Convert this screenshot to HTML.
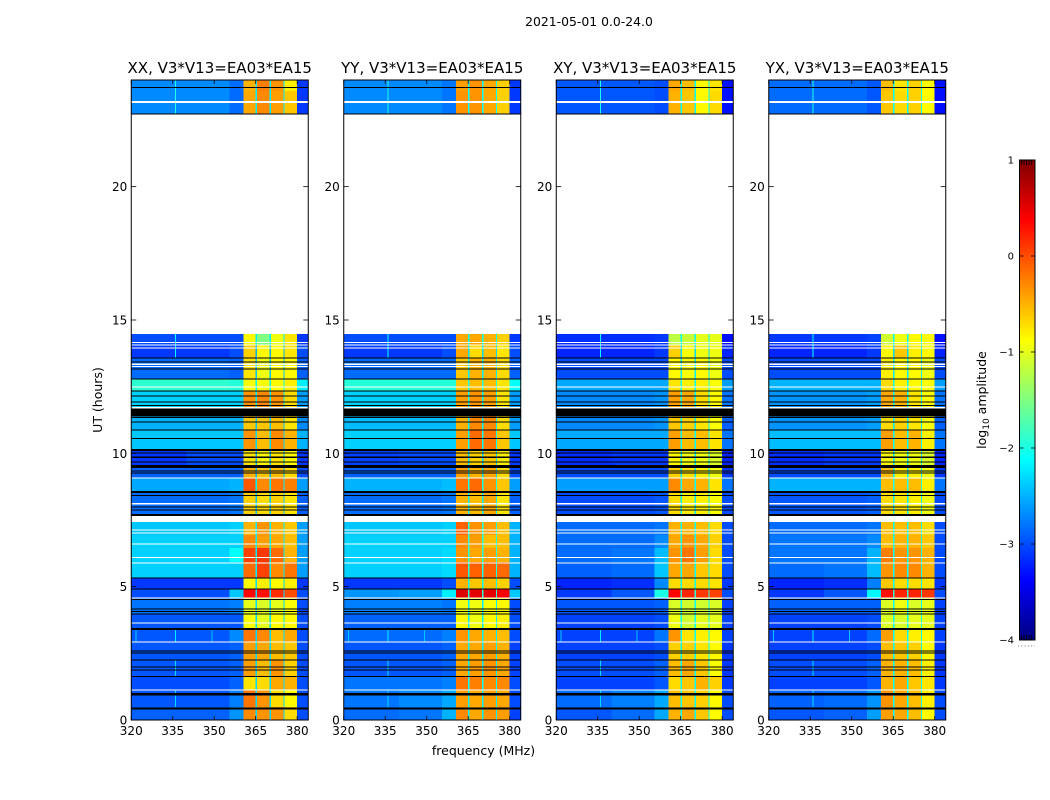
<!DOCTYPE html>
<html lang="en">
<head>
<meta charset="utf-8">
<title>2021-05-01 dynamic spectra</title>
<style>
html,body{margin:0;padding:0;background:#fff;width:1050px;height:800px;overflow:hidden}
svg{display:block}
text{font-family:"DejaVu Sans","Liberation Sans",sans-serif;fill:#000}
</style>
</head>
<body>
<svg id="figure" xmlns="http://www.w3.org/2000/svg" width="1050" height="800" viewBox="0 0 1050 800">
  <rect x="0" y="0" width="1050" height="800" fill="#fff"/>
  <text x="589" y="26" font-size="12.4" text-anchor="middle">2021-05-01 0.0-24.0</text>
  <text x="483.5" y="755" font-size="12.5" text-anchor="middle">frequency (MHz)</text>
  <text x="0" y="0" font-size="12.5" text-anchor="middle" transform="translate(102 400) rotate(-90)">UT (hours)</text>
  <text x="0" y="0" font-size="12.5" text-anchor="middle" transform="translate(986 400) rotate(-90)">log<tspan font-size="9" dy="3">10</tspan><tspan dy="-3"> amplitude</tspan></text>
  <g id="panels"></g>
  <g id="colorbar"></g>
</svg>
<script>
// ---- Chart data ----
const panelTitles = ['XX, V3*V13=EA03*EA15', 'YY, V3*V13=EA03*EA15', 'XY, V3*V13=EA03*EA15', 'YX, V3*V13=EA03*EA15'];
const freqTicks = [320, 335, 350, 365, 380];
const hourTicks = [0, 5, 10, 15, 20];
const colorTicks = [1, 0, -1, -2, -3, -4];

// Frequency bins [from, to] in MHz, and which level column each bin reads.
const freqBins = [[320,340],[340,355.5],[355.5,360.5],[360.5,365],[365,365.5],[365.5,370],[370,370.5],[370.5,375],[375,375.5],[375.5,380],[380,384]];
const binColumn = [0,1,2,3,7,4,7,5,7,6,8];

// Time rows [from, to] in UT hours.
const timeRows = [[23.59,24],[22.73,23.59],[14.06,14.48],[13.58,14.06],[12.79,13.58],[12.34,12.79],[11.66,12.34],[10.88,11.4],[10.13,10.88],[9.56,10.13],[9.08,9.45],[8.55,9.08],[7.73,8.55],[6.94,7.46],[6.45,6.94],[5.93,6.45],[5.33,5.93],[4.91,5.33],[4.58,4.91],[3.98,4.58],[3.41,3.98],[2.93,3.41],[2.25,2.93],[1.65,2.25],[1.13,1.65],[0.49,1.13],[0,0.49]];

// log10 amplitude per time row: 320-340, 340-355.5, 355.5-360.5, ch1, ch2, ch3, ch4, channel gap, 380-384
const xxLevels = [
[-2.7,-2.7,-2.85,-0.5,-0.25,-0.35,-0.8,-2.2,-3.1],
[-2.7,-2.7,-2.85,-0.45,-0.3,-0.4,-0.6,-2.2,-3.1],
[-3.0,-3.0,-3.0,-0.85,-1.5,-0.95,-0.75,-2.2,-3.1],
[-3.1,-3.1,-3.0,-0.65,-0.85,-0.85,-0.75,-2.5,-3.0],
[-2.85,-2.85,-2.9,-0.75,-0.95,-0.85,-0.85,-2.4,-2.9],
[-1.9,-1.9,-1.95,-0.9,-0.9,-0.85,-0.8,-2.1,-2.2],
[-2.35,-2.35,-2.35,-0.35,-0.3,-0.35,-0.7,-2.2,-2.6],
[-2.5,-2.5,-2.5,-0.6,-0.6,-0.55,-0.75,-2.4,-2.7],
[-2.4,-2.4,-2.4,-0.35,-0.55,-0.3,-0.5,-2.3,-2.5],
[-3.1,-3.0,-3.0,-0.75,-0.85,-0.75,-0.85,-2.5,-3.1],
[-2.9,-2.9,-2.9,-0.5,-0.6,-0.55,-0.7,-2.5,-3.0],
[-2.55,-2.55,-2.5,-0.05,-0.3,-0.2,-0.25,-2.2,-2.6],
[-2.85,-2.85,-2.8,-0.65,-0.7,-0.65,-0.75,-2.4,-2.9],
[-2.4,-2.4,-2.35,-0.5,-0.35,-0.5,-0.6,-2.2,-2.6],
[-2.35,-2.35,-2.35,-0.3,-0.4,-0.45,-0.55,-2.2,-2.6],
[-2.35,-2.35,-2.1,0.05,0.1,-0.15,-0.5,-2.2,-2.6],
[-2.35,-2.35,-2.35,-0.15,0.05,-0.3,-0.2,-2.2,-2.6],
[-3.1,-3.1,-3.1,-0.85,-0.8,-0.85,-0.8,-2.3,-3.1],
[-3.0,-3.0,-2.4,0.35,0.3,0.15,0.0,-2.3,-3.0],
[-2.8,-2.8,-2.75,-1.0,-1.05,-1.0,-0.9,-2.3,-3.0],
[-2.95,-2.95,-2.95,-0.9,-1.0,-0.85,-0.85,-2.3,-3.0],
[-2.95,-2.95,-2.7,-0.2,-0.3,-0.55,-0.45,-2.3,-3.0],
[-2.95,-2.95,-2.9,-0.4,-0.45,-0.55,-0.6,-2.3,-3.0],
[-2.95,-2.95,-2.9,-0.4,-0.55,-0.35,-0.65,-2.3,-3.0],
[-3.0,-3.0,-2.9,-0.75,-0.7,-0.45,-0.5,-2.3,-3.0],
[-2.95,-2.95,-2.75,-0.2,-0.35,-0.7,-0.85,-2.3,-3.0],
[-2.9,-2.9,-2.65,-0.3,-0.35,-0.35,-0.7,-2.3,-3.0]
];
const yyLevels = [
[-2.7,-2.7,-2.8,-0.4,-0.35,-0.45,-0.65,-2.1,-3.1],
[-2.7,-2.7,-2.8,-0.35,-0.35,-0.45,-0.65,-2.1,-3.1],
[-3.0,-3.0,-3.0,-0.45,-0.45,-0.5,-0.65,-2.1,-3.1],
[-3.1,-3.1,-3.0,-0.45,-0.7,-0.55,-0.75,-2.3,-3.0],
[-2.85,-2.85,-2.85,-0.6,-0.5,-0.5,-0.7,-2.2,-2.9],
[-1.95,-1.95,-1.95,-0.6,-0.55,-0.55,-0.75,-2.0,-2.1],
[-2.35,-2.35,-2.35,-0.4,-0.35,-0.4,-0.75,-2.1,-2.6],
[-2.45,-2.45,-2.45,-0.5,-0.3,-0.3,-0.7,-2.2,-2.6],
[-2.35,-2.35,-2.35,-0.4,-0.15,-0.2,-0.6,-2.1,-2.4],
[-3.05,-3.0,-3.0,-0.55,-0.65,-0.6,-0.8,-2.3,-3.1],
[-2.9,-2.9,-2.9,-0.4,-0.5,-0.45,-0.7,-2.3,-3.0],
[-2.5,-2.5,-2.45,-0.2,-0.15,-0.35,-0.6,-2.0,-2.6],
[-2.85,-2.85,-2.8,-0.5,-0.55,-0.45,-0.75,-2.2,-2.9],
[-2.4,-2.4,-2.35,-0.1,-0.35,-0.4,-0.55,-2.0,-2.5],
[-2.35,-2.35,-2.35,-0.3,-0.4,-0.55,-0.55,-2.0,-2.5],
[-2.35,-2.35,-2.3,-0.35,-0.45,-0.4,-0.5,-2.0,-2.5],
[-2.35,-2.35,-2.3,-0.05,-0.1,-0.1,-0.15,-2.0,-2.5],
[-3.1,-3.1,-3.0,-0.5,-0.6,-0.55,-0.65,-2.1,-3.0],
[-2.65,-2.6,-2.2,0.55,0.5,0.5,0.4,-1.9,-2.4],
[-2.75,-2.75,-2.8,-0.95,-0.95,-0.9,-0.85,-2.2,-3.0],
[-2.9,-2.9,-2.9,-0.85,-0.95,-0.85,-0.8,-2.2,-3.0],
[-2.85,-2.85,-2.75,-0.35,-0.45,-0.5,-0.55,-2.2,-3.0],
[-2.95,-2.95,-2.9,-0.45,-0.45,-0.4,-0.5,-2.2,-3.05],
[-2.95,-2.95,-2.9,-0.45,-0.4,-0.35,-0.45,-2.2,-3.05],
[-2.8,-2.8,-2.75,-0.2,-0.25,-0.3,-0.3,-2.1,-3.0],
[-2.8,-2.7,-2.55,-0.4,-0.45,-0.4,-0.45,-2.2,-3.0],
[-2.85,-2.8,-2.5,-0.3,-0.45,-0.35,-0.4,-2.2,-3.05]
];
const xyLevels = [
[-2.95,-2.95,-3.0,-0.45,-0.55,-0.85,-0.75,-2.1,-3.3],
[-2.95,-2.95,-3.0,-0.5,-0.6,-0.85,-0.7,-2.1,-3.3],
[-3.15,-3.15,-3.1,-1.2,-1.15,-1.0,-1.0,-2.1,-3.3],
[-3.2,-3.2,-3.1,-0.65,-0.9,-0.95,-0.95,-2.3,-3.2],
[-3.0,-3.0,-3.0,-0.85,-0.9,-0.85,-0.95,-2.2,-3.0],
[-2.55,-2.55,-2.55,-0.75,-0.8,-0.8,-0.9,-2.1,-2.6],
[-2.7,-2.7,-2.65,-0.4,-0.45,-0.7,-0.85,-2.1,-2.8],
[-2.7,-2.7,-2.65,-0.6,-0.65,-0.75,-0.9,-2.2,-2.9],
[-2.55,-2.55,-2.55,-0.4,-0.55,-0.55,-0.75,-2.1,-2.8],
[-3.15,-3.1,-3.1,-0.85,-0.95,-0.95,-1.05,-2.2,-3.2],
[-3.0,-3.0,-3.0,-0.65,-0.75,-0.8,-0.95,-2.2,-3.1],
[-2.6,-2.6,-2.6,-0.3,-0.45,-0.5,-0.75,-2.1,-2.8],
[-3.0,-3.0,-2.95,-0.7,-0.8,-0.8,-0.9,-2.2,-3.0],
[-2.85,-2.85,-2.8,-0.5,-0.5,-0.55,-0.7,-2.1,-3.0],
[-2.85,-2.85,-2.7,-0.45,-0.35,-0.45,-0.65,-2.1,-3.0],
[-2.85,-2.8,-2.45,-0.35,-0.2,-0.4,-0.7,-2.1,-3.0],
[-2.9,-2.85,-2.4,-0.45,-0.45,-0.6,-0.7,-2.1,-3.0],
[-3.2,-3.15,-2.7,-0.7,-0.7,-0.7,-0.75,-2.1,-3.1],
[-3.1,-2.95,-2.0,0.35,0.2,0.1,0.05,-1.9,-3.0],
[-2.95,-2.95,-2.9,-1.05,-1.1,-1.1,-1.05,-2.1,-3.05],
[-3.05,-3.05,-3.0,-0.95,-1.1,-1.0,-1.0,-2.1,-3.05],
[-3.05,-3.05,-2.8,-0.35,-0.75,-0.8,-0.85,-2.1,-3.05],
[-3.05,-3.05,-3.0,-0.65,-0.65,-0.75,-0.85,-2.1,-3.1],
[-3.0,-3.0,-2.9,-0.55,-0.45,-0.6,-0.9,-2.1,-3.1],
[-3.05,-3.05,-2.95,-0.7,-0.6,-0.5,-0.65,-2.1,-3.1],
[-2.85,-2.75,-2.55,-0.55,-0.6,-0.65,-0.85,-2.1,-3.0],
[-2.95,-2.85,-2.55,-0.5,-0.45,-0.6,-0.85,-2.1,-3.0]
];
const yxLevels = [
[-2.85,-2.85,-2.95,-0.55,-0.75,-0.65,-0.85,-2.1,-3.3],
[-2.85,-2.85,-2.95,-0.6,-0.7,-0.65,-0.85,-2.1,-3.3],
[-3.1,-3.1,-3.05,-1.1,-0.95,-0.85,-0.85,-2.1,-3.3],
[-3.2,-3.2,-3.1,-0.85,-0.6,-0.8,-0.85,-2.3,-3.2],
[-3.0,-3.0,-3.0,-0.8,-0.85,-0.85,-0.95,-2.2,-3.0],
[-2.5,-2.5,-2.5,-0.7,-0.8,-0.85,-0.9,-2.1,-2.6],
[-2.65,-2.65,-2.6,-0.45,-0.5,-0.75,-0.85,-2.1,-2.8],
[-2.65,-2.65,-2.6,-0.7,-0.65,-0.75,-0.9,-2.2,-2.9],
[-2.45,-2.45,-2.45,-0.4,-0.55,-0.5,-0.8,-2.1,-2.8],
[-3.15,-3.1,-3.1,-0.85,-0.95,-0.95,-1.05,-2.2,-3.2],
[-3.0,-3.0,-3.0,-0.55,-0.8,-0.8,-0.95,-2.2,-3.1],
[-2.5,-2.5,-2.5,-0.55,-0.55,-0.55,-0.8,-2.0,-2.8],
[-2.95,-2.95,-2.9,-0.7,-0.75,-0.8,-0.95,-2.2,-3.0],
[-2.85,-2.85,-2.8,-0.55,-0.55,-0.55,-0.7,-2.1,-3.0],
[-2.8,-2.8,-2.7,-0.55,-0.5,-0.5,-0.6,-2.1,-3.0],
[-2.8,-2.8,-2.5,-0.25,-0.35,-0.35,-0.5,-2.1,-3.0],
[-2.85,-2.8,-2.45,-0.35,-0.3,-0.3,-0.5,-2.1,-3.0],
[-3.2,-3.15,-2.75,-0.6,-0.7,-0.7,-0.75,-2.1,-3.1],
[-3.1,-2.95,-2.15,0.3,0.2,0.2,0.1,-1.9,-3.0],
[-2.9,-2.9,-2.9,-1.05,-0.95,-1.05,-1.0,-2.1,-3.05],
[-3.05,-3.05,-3.0,-1.05,-1.05,-1.0,-1.0,-2.1,-3.05],
[-3.05,-3.05,-2.85,-0.4,-0.7,-0.8,-0.85,-2.1,-3.05],
[-3.05,-3.05,-3.0,-0.55,-0.6,-0.65,-0.85,-2.1,-3.1],
[-3.0,-3.0,-2.9,-0.5,-0.5,-0.55,-0.8,-2.1,-3.1],
[-3.05,-3.05,-2.95,-0.5,-0.45,-0.6,-0.75,-2.1,-3.1],
[-2.9,-2.85,-2.65,-0.35,-0.45,-0.55,-0.8,-2.1,-3.0],
[-2.95,-2.9,-2.6,-0.4,-0.45,-0.55,-0.85,-2.1,-3.0]
];
const panelLevels = [xxLevels, yyLevels, xyLevels, yxLevels];

// Narrow interference features: frequency MHz, from hour, to hour, log10 amplitude.
const rfiLines = [[335.8,22.73,24,-2.0],[335.8,13.58,14.48,-2.1],[335.8,2.93,3.41,-2.2],[335.8,1.65,2.25,-2.3],[335.8,0.49,1.13,-2.3],[321.5,2.93,3.41,-2.4],[349,2.93,3.41,-2.4]];
// Flagged (black) and empty (white) time ranges in UT hours.
const blackRanges = [[22.71,22.75],[23.7,23.74],[13.56,13.6],[13.41,13.45],[13.14,13.18],[12.77,12.81],[12.32,12.36],[12.13,12.17],[11.9,11.94],[11.77,11.81],[11.38,11.68],[11.32,11.36],[11.15,11.19],[10.86,10.9],[10.53,10.57],[10.09,10.16],[9.99,10.03],[9.82,9.89],[9.66,9.7],[9.45,9.56],[9.32,9.36],[9.24,9.28],[8.51,8.58],[8.4,8.44],[7.97,8.01],[7.86,7.9],[7.65,7.73],[5.31,5.35],[4.89,4.93],[4.5,4.54],[4.14,4.18],[4.05,4.09],[3.96,4.0],[3.37,3.45],[2.57,2.61],[2.49,2.53],[2.23,2.27],[1.97,2.01],[1.85,1.89],[1.61,1.65],[0.92,1.01],[0.39,0.47]];
const whiteRanges = [[23.13,23.22],[14.13,14.17],[14.04,14.08],[13.93,13.97],[13.32,13.36],[13.23,13.27],[12.47,12.51],[11.69,11.73],[9.05,9.09],[8.09,8.13],[7.46,7.65],[7.42,7.46],[7.11,7.15],[6.99,7.03],[6.58,6.62],[6.07,6.11],[5.87,5.91],[4.55,4.59],[3.62,3.66],[2.91,2.95],[1.11,1.15]];

// ---- Layout ----
const panelLeft = [131.25, 343.75, 556.25, 768.75];
const panelWidth = 177;
const plotTop = 80;
const plotBottom = 720;
const freqMin = 320, freqMax = 384, hourMin = 0, hourMax = 24;
const cbLeft = 1019.5, cbWidth = 15.5, cbTop = 160, cbBottom = 640;
const NS = 'http://www.w3.org/2000/svg';

function make(parent, tag, attrs) {
  const el = document.createElementNS(NS, tag);
  for (const k in attrs) el.setAttribute(k, attrs[k]);
  parent.appendChild(el);
  return el;
}
function freqX(panel, f) { return panelLeft[panel] + (f - freqMin) / (freqMax - freqMin) * panelWidth; }
function hourY(h) { return plotBottom - (h - hourMin) / (hourMax - hourMin) * (plotBottom - plotTop); }
function levelY(v) { return cbBottom - (v + 4) / 5 * (cbBottom - cbTop); }
function jet(v) {
  const t = Math.max(0, Math.min(1, (v + 4) / 5));
  const c = [3, 2, 1].map(function (o) { return Math.round(255 * Math.max(0, Math.min(1, 1.5 - Math.abs(4 * t - o)))); });
  return 'rgb(' + c[0] + ',' + c[1] + ',' + c[2] + ')';
}
function fmt(v) { return v < 0 ? '\u2212' + Math.abs(v) : String(v); }

const panelsGroup = document.getElementById('panels');
panelTitles.forEach(function (title, p) {
  const g = make(panelsGroup, 'g', {});
  
  

  const heat = make(g, 'g', { 'shape-rendering': 'crispEdges' });
  
  

  timeRows.forEach(function (row, r) {
    freqBins.forEach(function (bin, b) {
      const x0 = freqX(p, bin[0]), x1 = freqX(p, bin[1]);
      const y0 = hourY(row[1]), y1 = hourY(row[0]);
      const cell = make(heat, 'rect', { x: x0, y: y0, width: x1 - x0, height: y1 - y0, fill: jet(panelLevels[p][r][binColumn[b]]) });
      
      
    });
  });
  rfiLines.forEach(function (line) {
    const rfi = make(heat, 'rect', { x: freqX(p, line[0]), y: hourY(line[2]), width: 1, height: hourY(line[1]) - hourY(line[2]), fill: jet(line[3]) });
    
    
  });
  whiteRanges.forEach(function (range) {
    const band = make(heat, 'rect', { x: freqX(p, freqMin), y: hourY(range[1]), width: panelWidth, height: hourY(range[0]) - hourY(range[1]), fill: '#fff' });
    
    
  });
  blackRanges.forEach(function (range) {
    const band = make(heat, 'rect', { x: freqX(p, freqMin), y: hourY(range[1]), width: panelWidth, height: hourY(range[0]) - hourY(range[1]), fill: '#000' });
    
    
  });

  const frame = make(g, 'rect', { x: panelLeft[p], y: plotTop, width: panelWidth, height: plotBottom - plotTop, fill: 'none', stroke: '#000', 'stroke-width': 1 });
  
  

  const titleEl = make(g, 'text', { x: panelLeft[p] + panelWidth / 2, y: 73, 'font-size': 15, 'text-anchor': 'middle' });
  titleEl.textContent = title;
  
  

  freqTicks.forEach(function (f) {
    const x = freqX(p, f);
    const bottomTick = make(g, 'line', { x1: x, x2: x, y1: plotBottom, y2: plotBottom - 4, stroke: '#000', 'stroke-width': 0.8 });
    
    
    const topTick = make(g, 'line', { x1: x, x2: x, y1: plotTop, y2: plotTop + 4, stroke: '#000', 'stroke-width': 0.8 });
    
    
    const label = make(g, 'text', { x: x, y: 735, 'font-size': 12, 'text-anchor': 'middle' });
    label.textContent = String(f);
    
    
  });
  hourTicks.forEach(function (h) {
    const y = hourY(h);
    const leftTick = make(g, 'line', { x1: panelLeft[p], x2: panelLeft[p] + 5, y1: y, y2: y, stroke: '#000', 'stroke-width': 0.8 });
    
    
    const rightTick = make(g, 'line', { x1: panelLeft[p] + panelWidth, x2: panelLeft[p] + panelWidth - 5, y1: y, y2: y, stroke: '#000', 'stroke-width': 0.8 });
    
    
    const label = make(g, 'text', { x: panelLeft[p] - 4, y: y + 4.5, 'font-size': 12, 'text-anchor': 'end' });
    label.textContent = String(h);
    
    
  });
});

// ---- Colorbar ----
const cb = document.getElementById('colorbar');
const cbRamp = make(cb, 'g', { 'shape-rendering': 'crispEdges' });


for (let i = 0; i < 240; i++) {
  const v = -4 + i * 5 / 240;
  const step = make(cbRamp, 'rect', { x: cbLeft, y: levelY(v + 5 / 240), width: cbWidth, height: 2, fill: jet(v + 2.5 / 240) });
  
  
}
const cbFrame = make(cb, 'rect', { x: cbLeft, y: cbTop, width: cbWidth, height: cbBottom - cbTop, fill: 'none', stroke: '#000', 'stroke-width': 1 });


colorTicks.forEach(function (v) {
  const y = levelY(v);
  const tl = make(cb, 'line', { x1: cbLeft, x2: cbLeft + 4, y1: y, y2: y, stroke: '#000', 'stroke-width': 0.8 });
  
  
  const tr = make(cb, 'line', { x1: cbLeft + cbWidth, x2: cbLeft + cbWidth - 4, y1: y, y2: y, stroke: '#000', 'stroke-width': 0.8 });
  
  
  const label = make(cb, 'text', { x: 1014, y: y + 3.5, 'font-size': 10, 'text-anchor': 'end' });
  label.textContent = fmt(v);
  
  
});
[1021.5, 1024, 1026.5, 1029, 1031.5].forEach(function (x) {
  [[cbTop, cbTop + 5], [cbBottom - 5, cbBottom]].forEach(function (span) {
    const minor = make(cb, 'line', { x1: x, x2: x, y1: span[0], y2: span[1], stroke: '#000', 'stroke-width': 0.8 });
    
    
  });
});
const dots = make(cb, 'line', { x1: 1018, x2: 1035, y1: 646, y2: 646, stroke: '#777', 'stroke-width': 1, 'stroke-dasharray': '1 2.3' });


</script>
</body>
</html>
